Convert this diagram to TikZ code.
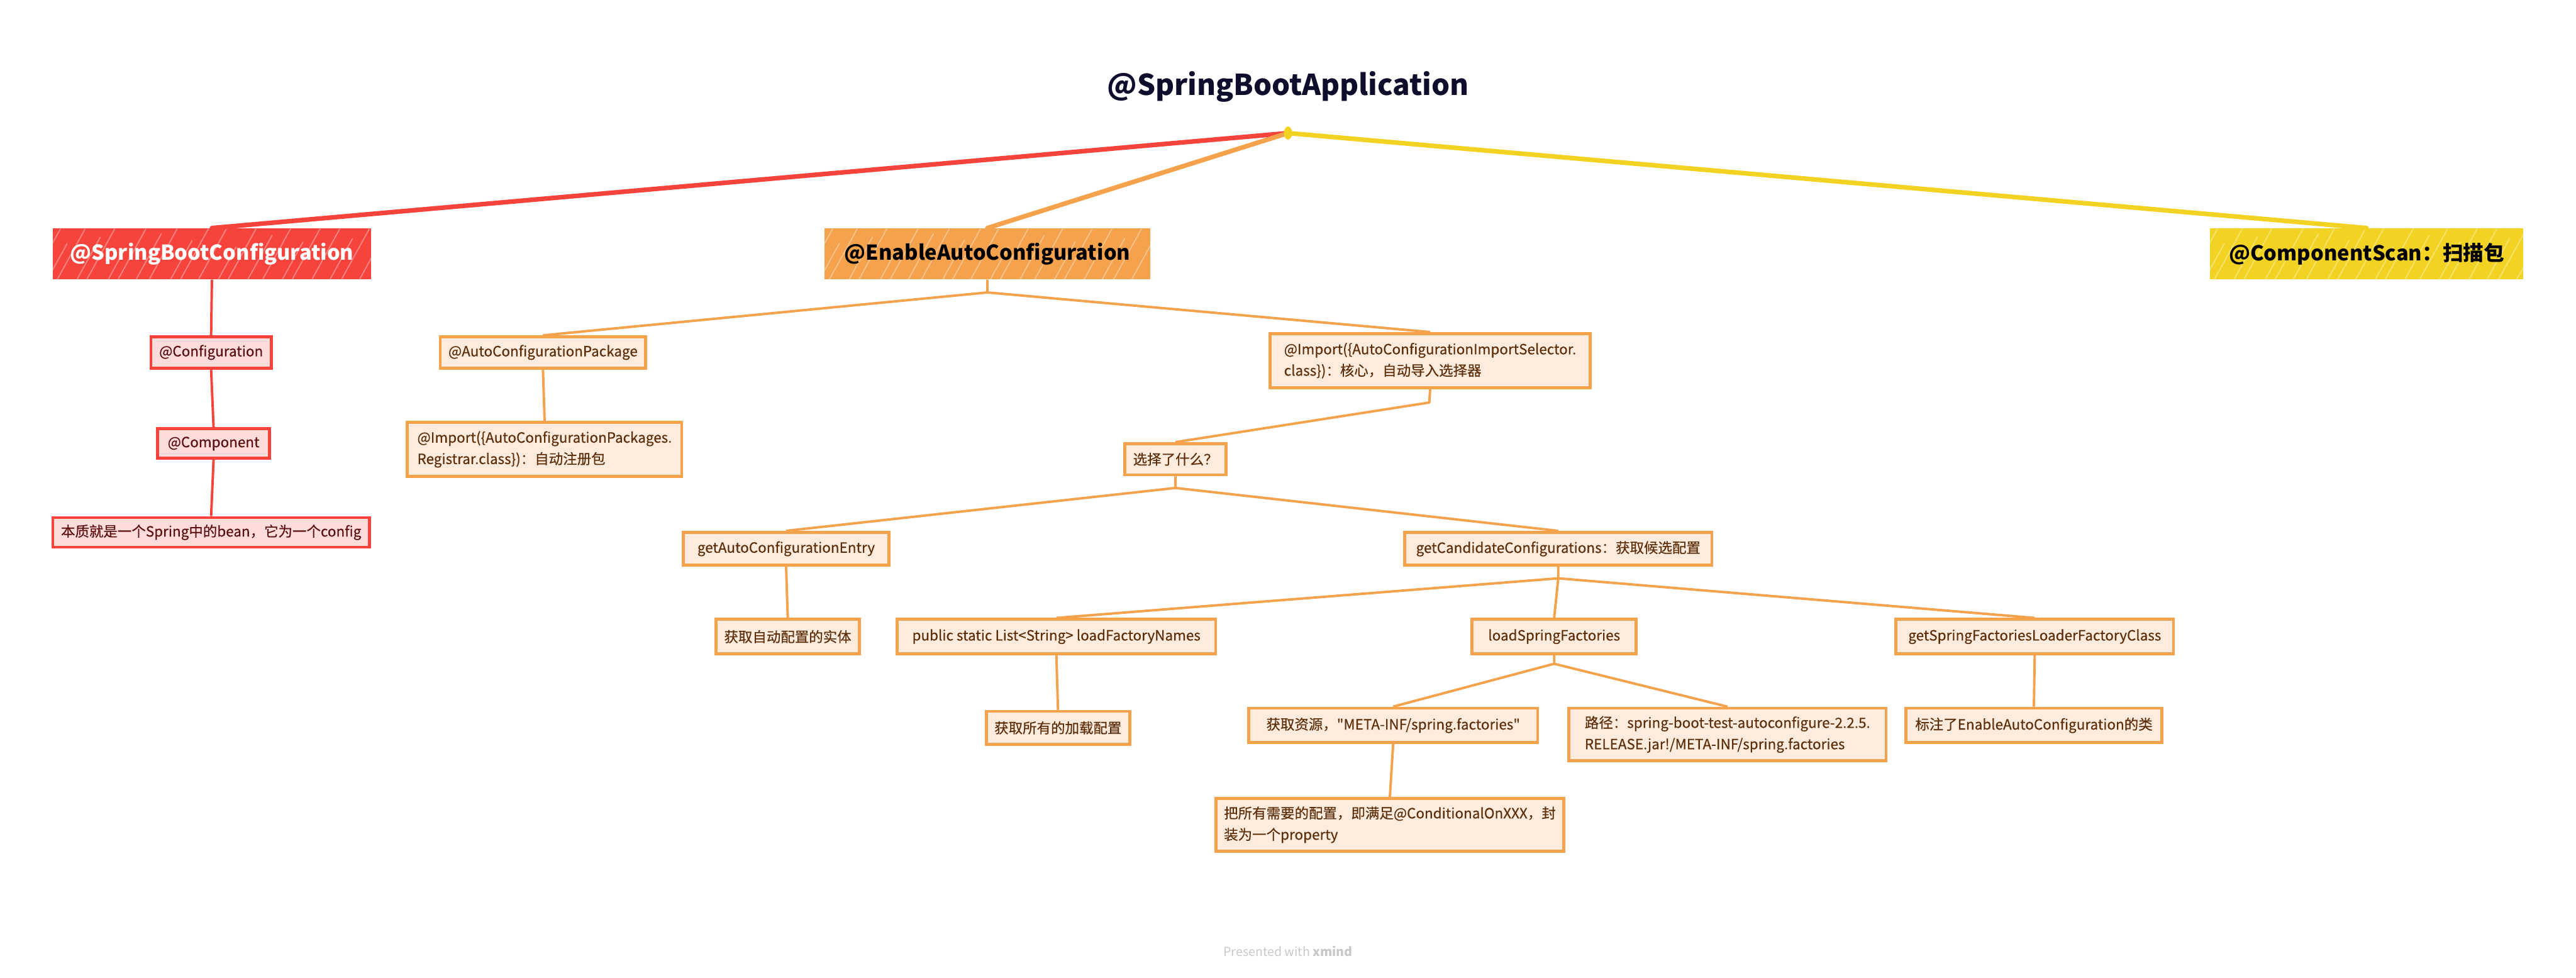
\documentclass[tikz,border=0pt]{standalone}
\usepackage{fontspec}
\setmainfont{Noto Sans CJK SC}[Ligatures=TeXOff]
\newfontfamily\subfont{Noto Sans CJK SC}[Ligatures=TeXOff,FakeBold=0.4]
\usetikzlibrary{arrows.meta}

\begin{document}
\begin{tikzpicture}[x=1pt,y=-1pt,line width=0.4pt,
  topbox/.style={inner sep=0pt,minimum height=31,font=\ftop},
  toplabel/.style={inner sep=0pt,font=\ftop},
  redsub/.style={draw=figred,line width=1.8pt,fill=figredlt,text=figredtx,inner xsep=5pt,inner ysep=0pt,font=\fsub,align=left},
  orsub/.style={draw=figor,line width=1.8pt,fill=figorlt,text=figortx,inner xsep=5pt,inner ysep=0pt,font=\fsub,align=left},
  rootlink/.style={line width=2.8pt,line cap=round},
  redlink/.style={draw=figred,line width=1.5pt},
  orlink/.style={draw=figor,line width=1.5pt,line join=round},
  streak/.style={white,opacity=0.35,line width=0.7pt}]
\definecolor{figink}{RGB}{14,14,44}
\definecolor{figred}{RGB}{246,68,61}
\definecolor{figredlt}{RGB}{253,220,218}
\definecolor{figredtx}{RGB}{92,14,14}
\definecolor{figor}{RGB}{245,162,77}
\definecolor{figorlt}{RGB}{253,236,222}
\definecolor{figortx}{RGB}{92,46,10}
\definecolor{figyel}{RGB}{242,211,35}
\definecolor{figfoot}{RGB}{200,200,200}
\providecommand{\ftitle}{\fontsize{17.5}{20}\selectfont\bfseries}
\providecommand{\ftop}{\fontsize{12.5}{15}\selectfont\bfseries}
\providecommand{\fsub}{\subfont\fontsize{8.6}{13}\selectfont}
\providecommand{\hatchbox}[1]{%
  \begin{scope}
  \clip (#1.south west) rectangle (#1.north east);
  \foreach \k/\h in {0/31,9/22,15/31,27/26,33/31,46/18,52/31,63/28,71/31,84/24,90/31,101/31,113/20,119/31,131/27,140/31,152/23,158/31,170/31,181/25,188/31,199/31,211/22}
    \draw[streak] ([xshift=\k pt-12pt]#1.south west) -- ++(0.55*\h,-\h);
  \end{scope}}
\useasboundingbox (0,0) rectangle (1568,595);
% root
\node[font=\ftitle,text=figink,inner sep=0pt] (app) at (784,53) {@SpringBootApplication};
\coordinate (appj) at (784,81);
\node[topbox,fill=figred,minimum width=194] (sbc) at (129,154.5) {};
\node[topbox,fill=figor,minimum width=198] (eac) at (601,154.5) {};
\node[topbox,fill=figyel,minimum width=191] (cscan) at (1440.5,154.5) {};
\hatchbox{sbc}
\hatchbox{eac}
\hatchbox{cscan}
\node[toplabel,text=white] (sbclabel) at (sbc) {@SpringBootConfiguration};
\node[toplabel,text=black] (eaclabel) at (eac) {@EnableAutoConfiguration};
\node[toplabel,text=black] (cscanlabel) at (cscan) {@ComponentScan：扫描包};
\draw[rootlink,figred] (appj) -- (sbc.north);
\draw[rootlink,figor] (appj) -- (eac.north);
\draw[rootlink,figyel] (appj) -- (cscan.north);
\fill[figyel] (appj) ellipse (2.5 and 4);
% red branch
\node[redsub,minimum width=73,minimum height=19] (conf) at (128.5,214.5) {@Configuration};
\node[redsub,minimum width=68,minimum height=18] (comp) at (130,270) {@Component};
\node[redsub,minimum width=187,minimum height=18] (bean) at (128.5,324) {本质就是一个Spring中的bean，它为一个config};
\draw[redlink] (sbc.south) -- (conf.north);
\draw[redlink] (conf.south) -- (comp.north);
\draw[redlink] (comp.south) -- (bean.north);
% orange branch
\node[orsub,minimum width=125,minimum height=19] (acp) at (330.5,214.5) {@AutoConfigurationPackage};
\node[orsub,minimum width=195,minimum height=33] (ais) at (870.5,219.5) {@Import(\{AutoConfigurationImportSelector.\\class\})：核心，自动导入选择器};
\node[orsub,minimum width=167,minimum height=33] (reg) at (331.5,273.5) {@Import(\{AutoConfigurationPackages.\\Registrar.class\})：自动注册包};
\node[orsub,minimum width=61,minimum height=19] (what) at (715.5,279.5) {选择了什么？};
\node[orsub,minimum width=125,minimum height=20] (entry) at (478.5,334) {getAutoConfigurationEntry};
\node[orsub,minimum width=187,minimum height=20] (cand) at (948.5,334) {getCandidateConfigurations：获取候选配置};
\node[orsub,minimum width=87,minimum height=21] (impl) at (479.5,387.5) {获取自动配置的实体};
\node[orsub,minimum width=194,minimum height=21] (lfn) at (643,387.5) {public static List<String> loadFactoryNames};
\node[orsub,minimum width=100,minimum height=21] (lsf) at (946,387.5) {loadSpringFactories};
\node[orsub,minimum width=169,minimum height=21] (gsf) at (1238.5,387.5) {getSpringFactoriesLoaderFactoryClass};
\node[orsub,minimum width=86,minimum height=20] (allcfg) at (644,443) {获取所有的加载配置};
\node[orsub,minimum width=176,minimum height=21] (res) at (848,441.5) {获取资源，"META-INF/spring.factories"};
\node[orsub,minimum width=193,minimum height=32] (path) at (1051.5,447) {路径：spring-boot-test-autoconfigure-2.2.5.\\RELEASE.jar!/META-INF/spring.factories};
\node[orsub,minimum width=156,minimum height=21] (mark) at (1238,441.5) {标注了EnableAutoConfiguration的类};
\node[orsub,minimum width=205,minimum height=32] (prop) at (846,502) {把所有需要的配置，即满足@ConditionalOnXXX，封\\装为一个property};
\coordinate (eacj) at (601,178);
\coordinate (aisj) at (870,245);
\coordinate (whatj) at (715.5,297);
\coordinate (candj) at (948.5,352);
\coordinate (lsfj) at (946,404);
\draw[orlink] (eac.south) -- (eacj) -- (acp.north);
\draw[orlink] (eacj) -- (ais.north);
\draw[orlink] (acp.south) -- (reg.north);
\draw[orlink] (ais.south) -- (aisj) -- (what.north);
\draw[orlink] (what.south) -- (whatj) -- (entry.north);
\draw[orlink] (whatj) -- (cand.north);
\draw[orlink] (entry.south) -- (impl.north);
\draw[orlink] (cand.south) -- (candj) -- (lfn.north);
\draw[orlink] (candj) -- (lsf.north);
\draw[orlink] (candj) -- (gsf.north);
\draw[orlink] (lfn.south) -- (allcfg.north);
\draw[orlink] (lsf.south) -- (lsfj) -- (res.north);
\draw[orlink] (lsfj) -- (path.north);
\draw[orlink] (gsf.south) -- (mark.north);
\draw[orlink] (res.south) -- (prop.north);
% footer
\node[font=\fontsize{7.5}{9}\selectfont,text=figfoot,inner sep=0pt] (foot) at (784,579) {Presented with \textbf{xmind}};
\end{tikzpicture}
\end{document}
